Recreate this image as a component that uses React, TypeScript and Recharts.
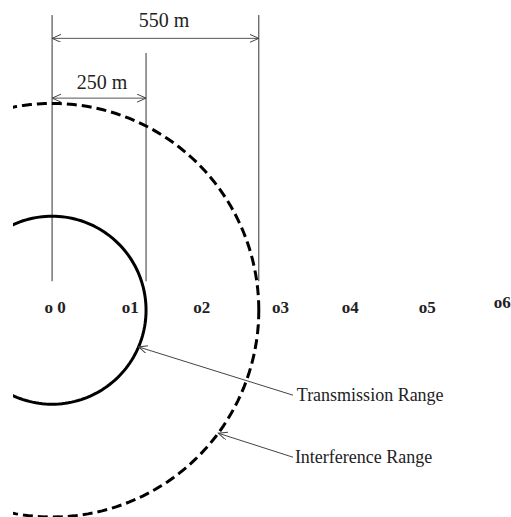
import {
  ComposedChart,
  Line,
  Scatter,
  XAxis,
  YAxis,
  ReferenceLine,
  ReferenceDot,
} from "recharts";

// distances in metres, node o0 sits at the origin
const NODE_NAMES = ["o 0", "o1", "o2", "o3", "o4", "o5", "o6"];
const NODE_DISTANCES = [0, 200, 390, 600, 785, 990, 1190];
const RANGE_NAMES = ["Transmission Range", "Interference Range"];
const RANGE_RADII = [250, 550];
const RANGE_LABELS = ["250 m", "550 m"];

const SERIF = "'Liberation Serif', 'Times New Roman', serif";
const INK = "#222";

const nodeData = NODE_NAMES.map((name, i) => ({
  name,
  x: NODE_DISTANCES[i],
  y: 0,
}));

function circlePoints(r: number) {
  const pts: { x: number; y: number }[] = [];
  for (let a = 0; a <= 360; a += 2) {
    const t = (a * Math.PI) / 180;
    pts.push({ x: r * Math.cos(t), y: r * Math.sin(t) });
  }
  return pts;
}

function onCircle(r: number, deg: number) {
  const t = (deg * Math.PI) / 180;
  return { x: r * Math.cos(t), y: r * Math.sin(t) };
}

const lineShape =
  (stroke: string, start?: string, end?: string) => (p: any) =>
    (
      <line
        x1={p.x1}
        y1={p.y1}
        x2={p.x2}
        y2={p.y2}
        stroke={stroke}
        strokeWidth={1}
        markerStart={start}
        markerEnd={end}
      />
    );

const textShape =
  (value: string, size: number, anchor: "start" | "middle") => (p: any) =>
    (
      <text
        x={p.cx}
        y={p.cy}
        fontFamily={SERIF}
        fontSize={size}
        fill={INK}
        textAnchor={anchor}
      >
        {value}
      </text>
    );

const NodeLabel = (p: any) => {
  const last = p.payload.name === NODE_NAMES[NODE_NAMES.length - 1];
  return (
    <text
      x={p.cx + 3}
      y={p.cy + (last ? -2 : 3)}
      fontFamily={SERIF}
      fontSize={17}
      fontWeight="bold"
      fill={INK}
      textAnchor="middle"
    >
      {p.payload.name}
    </text>
  );
};

export default function App() {
  const [txR, ifR] = RANGE_RADII;
  const txTip = onCircle(txR, -23);
  const ifTip = onCircle(ifR, -36.5);

  return (
    <div>
      <style>{"body{margin:0;background:#fff}"}</style>
      <ComposedChart
        width={511}
        height={517}
        margin={{ top: 0, right: 0, bottom: 0, left: 13 }}
      >
        <defs>
          <marker
            id="openArrow"
            markerWidth={12}
            markerHeight={12}
            refX={9}
            refY={4}
            orient="auto-start-reverse"
            markerUnits="userSpaceOnUse"
          >
            <path d="M0,0 L9,4 L0,8" fill="none" stroke="#444" strokeWidth={1} />
          </marker>
        </defs>
        <XAxis
          type="number"
          dataKey="x"
          domain={[-104, 1221]}
          allowDataOverflow
          hide
        />
        <YAxis
          type="number"
          dataKey="y"
          domain={[-550, 825]}
          allowDataOverflow
          hide
        />

        {/* dimension lines */}
        <ReferenceLine
          segment={[{ x: 0, y: 77 }, { x: 0, y: 785 }]}
          shape={lineShape("#333")}
        />
        <ReferenceLine
          segment={[{ x: txR, y: 77 }, { x: txR, y: 684 }]}
          shape={lineShape("#333")}
        />
        <ReferenceLine
          segment={[{ x: ifR, y: 77 }, { x: ifR, y: 785 }]}
          shape={lineShape("#333")}
        />
        <ReferenceLine
          segment={[{ x: 0, y: 723 }, { x: ifR, y: 723 }]}
          shape={lineShape("#555", "url(#openArrow)", "url(#openArrow)")}
        />
        <ReferenceLine
          segment={[{ x: 0, y: 564 }, { x: txR, y: 564 }]}
          shape={lineShape("#555", "url(#openArrow)", "url(#openArrow)")}
        />
        <ReferenceDot x={298} y={753} r={0} shape={textShape(RANGE_LABELS[1], 20, "middle")} />
        <ReferenceDot x={133} y={588} r={0} shape={textShape(RANGE_LABELS[0], 20, "middle")} />

        {/* ranges */}
        <Line
          data={circlePoints(txR)}
          dataKey="y"
          type="linear"
          stroke="#000"
          strokeWidth={3}
          dot={false}
          activeDot={false}
          isAnimationActive={false}
        />
        <Line
          data={circlePoints(ifR)}
          dataKey="y"
          type="linear"
          stroke="#000"
          strokeWidth={3}
          strokeDasharray="10 5"
          dot={false}
          activeDot={false}
          isAnimationActive={false}
        />

        {/* leaders */}
        <ReferenceLine
          segment={[{ x: 641, y: -226 }, txTip]}
          shape={lineShape("#444", undefined, "url(#openArrow)")}
        />
        <ReferenceLine
          segment={[{ x: 641, y: -391 }, ifTip]}
          shape={lineShape("#444", undefined, "url(#openArrow)")}
        />
        <ReferenceDot x={651} y={-242} r={0} shape={textShape(RANGE_NAMES[0], 18, "start")} />
        <ReferenceDot x={646} y={-407} r={0} shape={textShape(RANGE_NAMES[1], 18, "start")} />

        {/* nodes */}
        <Scatter data={nodeData} shape={NodeLabel} isAnimationActive={false} />
      </ComposedChart>
    </div>
  );
}
